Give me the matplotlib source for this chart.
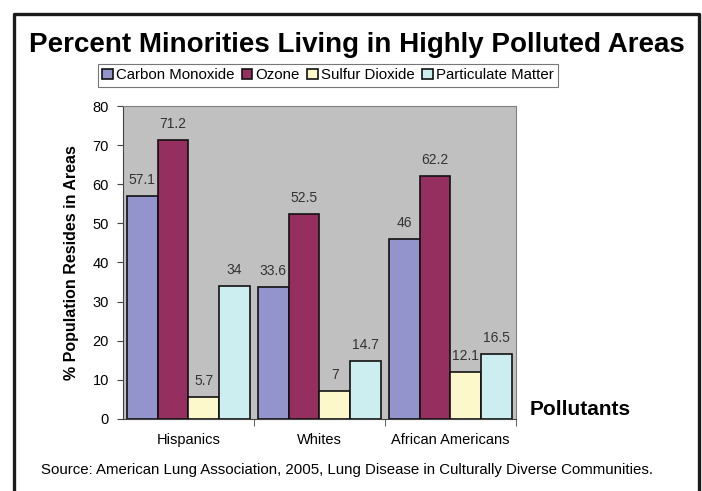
import matplotlib
matplotlib.use('Agg')
import matplotlib.pyplot as plt
from matplotlib.lines import Line2D
import numpy as np

plt.rcParams['font.family'] = ['Liberation Sans', 'DejaVu Sans']

# Data
groups = ['Hispanics', 'Whites', 'African Americans']
pollutants = ['Carbon Monoxide', 'Ozone', 'Sulfur Dioxide', 'Particulate Matter']
carbon_monoxide = [57.1, 33.6, 46]
ozone = [71.2, 52.5, 62.2]
sulfur_dioxide = [5.7, 7, 12.1]
particulate = [34, 14.7, 16.5]
colors = ['#9494cc', '#952f60', '#fcf8cc', '#cdeef0']

series = [carbon_monoxide, ozone, sulfur_dioxide, particulate]

fig = plt.figure(figsize=(7.02, 4.91), dpi=100)
ax = fig.add_axes([0.175, 0.147, 0.560, 0.637])
ax.set_facecolor('#c0c0c0')

x = np.arange(len(groups))
w = 0.235
for i, (vals, name) in enumerate(zip(series, pollutants)):
    pos = x + (i - 1.5) * w
    bars = ax.bar(pos, vals, w, color=colors[i], edgecolor='#111111',
                  linewidth=1.2, label=name, zorder=3)
    for b, v in zip(bars, vals):
        ax.text(b.get_x() + b.get_width() / 2, v + 2.3, f'{v:g}',
                ha='center', va='bottom', fontsize=10, color='#333333', zorder=4)

ax.set_xlim(-0.5, 2.5)
ax.set_ylim(0, 80)
ax.set_yticks(range(0, 81, 10))
ax.set_xticks(x)
ax.set_xticklabels(groups, fontsize=10.5)
ax.tick_params(axis='x', length=0, pad=10)
ax.tick_params(axis='y', labelsize=10.5, length=4, color='#444444', pad=6)
# category dividers below the axis
ax.set_xticks([0.5, 1.5, 2.5], minor=True)
ax.tick_params(axis='x', which='minor', length=5, color='#444444', direction='out')

for side in ['top', 'right']:
    ax.spines[side].set_color('#808080')
for side in ['left', 'bottom']:
    ax.spines[side].set_color('#444444')

ax.set_ylabel('% Population Resides in Areas', fontsize=11.5, fontweight='bold', labelpad=10)

fig.text(0.508, 0.908, 'Percent Minorities Living in Highly Polluted Areas',
         ha='center', va='center', fontsize=20, fontweight='bold')
fig.text(0.755, 0.165, 'Pollutants', ha='left', va='center',
         fontsize=15, fontweight='bold')
fig.text(0.058, 0.043,
         'Source: American Lung Association, 2005, Lung Disease in Culturally Diverse Communities.',
         ha='left', va='center', fontsize=10.8)

leg = fig.legend(loc='center', bbox_to_anchor=(0.467, 0.847), ncol=4,
                 fontsize=10.8, frameon=True, fancybox=False, handlelength=0.7,
                 handleheight=0.7, handletextpad=0.2, columnspacing=0.5,
                 borderpad=0.3, edgecolor='#555555')
leg.get_frame().set_linewidth(0.8)

# outer frame (left, top, right)
fx0, fx1, fy = 14 / 702, 699 / 702, 1 - 14 / 491
fig.add_artist(Line2D([fx0, fx0, fx1, fx1], [0, fy, fy, 0],
                      transform=fig.transFigure, color='#1a1a1a', linewidth=2.4))

fig.savefig('out.png', dpi=100)
